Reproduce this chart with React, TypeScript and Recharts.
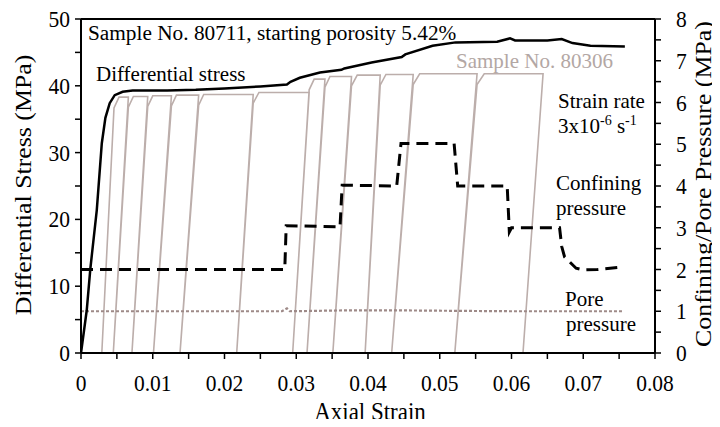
import { LineChart, Line, XAxis, YAxis, ReferenceLine } from 'recharts'

// Sample 80711 — differential stress (MPa) vs axial strain
const stressStrain = [0, 0.0008, 0.0013, 0.0022, 0.0029, 0.0034, 0.004, 0.0047, 0.0058, 0.0072, 0.012, 0.016, 0.02, 0.025, 0.0287, 0.0292, 0.0305, 0.0333, 0.0363, 0.0367, 0.0405, 0.0447, 0.0452, 0.049, 0.0522, 0.058, 0.0598, 0.0605, 0.065, 0.067, 0.0685, 0.071, 0.0758]
const stressValues = [0, 6.4, 12.6, 21.4, 31.4, 35.2, 37.4, 38.6, 39.1, 39.3, 39.3, 39.4, 39.6, 39.9, 40.2, 40.6, 41.2, 42.0, 42.4, 42.6, 43.5, 44.3, 44.7, 46.0, 46.5, 46.6, 47.1, 46.8, 46.8, 47.0, 46.4, 46.0, 45.9]

// Sample 80306 — unload / reload cycles
const cycleFoot = [0.0029, 0.0045, 0.0071, 0.0101, 0.0138, 0.0217, 0.0295, 0.0315, 0.0351, 0.0396, 0.0433, 0.0521, 0.0616]
const cycleTop = [0.0046, 0.0066, 0.0093, 0.0126, 0.0164, 0.024, 0.0318, 0.034, 0.0377, 0.0417, 0.0463, 0.0552, 0.0644]
const cycleKnee = [0.0053, 0.0073, 0.01, 0.0133, 0.0171, 0.0248, 0.0325, 0.0347, 0.0385, 0.0425, 0.0472, 0.0562]
const cyclePeak = [38.3, 38.4, 38.5, 38.6, 38.7, 39.0, 41.0, 41.4, 41.6, 41.7, 41.8, 41.8]

// confining pressure (MPa, right axis)
const confStrain = [0, 0.0284, 0.0286, 0.0361, 0.0364, 0.044, 0.0446, 0.052, 0.0525, 0.0594, 0.0597, 0.06, 0.0667, 0.067, 0.0674, 0.069, 0.07, 0.072, 0.0748]
const confValues = [2.0, 2.0, 3.05, 3.02, 4.02, 4.0, 5.02, 5.02, 4.0, 4.0, 2.9, 3.0, 3.0, 2.55, 2.3, 2.03, 1.99, 2.0, 2.05]

// pore pressure (MPa, right axis)
const poreStrain = [0, 0.028, 0.0287, 0.0291, 0.0365, 0.045, 0.052, 0.06, 0.0755]
const poreValues = [1.0, 1.0, 1.07, 1.0, 1.02, 1.02, 1.01, 1.0, 1.0]

const xTicks = [0, 0.005, 0.01, 0.015, 0.02, 0.025, 0.03, 0.035, 0.04, 0.045, 0.05, 0.055, 0.06, 0.065, 0.07, 0.075, 0.08]
const leftTicks = [0, 5, 10, 15, 20, 25, 30, 35, 40, 45, 50]
const rightTicks = [0, 0.5, 1, 1.5, 2, 2.5, 3, 3.5, 4, 4.5, 5, 5.5, 6, 6.5, 7, 7.5, 8]

const FONT = '"Liberation Serif", "Times New Roman", serif'
const GREY = '#bcaeab'
const STRETCH = 1.1 // the source figure is a bit taller than wide

const stressData = stressStrain.map((x, i) => ({ x, s: stressValues[i] }))
const confData = confStrain.map((x, i) => ({ x, p: confValues[i] }))
const poreData = poreStrain.map((x, i) => ({ x, p: poreValues[i] }))

// walk the cycles: reload up to the top, round into the plateau, unload at the next top
const cycleData: { x: number; s: number }[] = []
cycleFoot.forEach((f, i) => {
  if (i > 0) cycleData.push({ x: cycleTop[i], s: cyclePeak[i - 1] })
  cycleData.push({ x: f, s: 0 })
  if (i < cyclePeak.length) {
    cycleData.push({ x: cycleTop[i], s: cyclePeak[i] - 1.6 })
    cycleData.push({ x: cycleKnee[i], s: cyclePeak[i] })
  }
})

const axisLine = { stroke: '#000', strokeWidth: 2 }
const tickLine = { stroke: '#000', strokeWidth: 1.5 }

function XTick({ x, y, payload }: any) {
  const v = payload.value as number
  if (Math.round(v * 1000) % 10 !== 0) return null
  return (
    <text transform={`translate(${x},${y}) scale(1,${STRETCH})`} textAnchor="middle" dy="0.71em" fontSize={21.5} fill="#000" fontFamily={FONT}>
      {String(+v.toFixed(2))}
    </text>
  )
}

function LeftTick({ x, y, payload }: any) {
  const v = payload.value as number
  if (v % 10 !== 0) return null
  return (
    <text transform={`translate(${x},${y}) scale(1,${STRETCH})`} textAnchor="end" dy="0.34em" fontSize={21.5} fill="#000" fontFamily={FONT}>
      {v}
    </text>
  )
}

function RightTick({ x, y, payload }: any) {
  const v = payload.value as number
  if (v % 1 !== 0) return null
  return (
    <text transform={`translate(${x},${y}) scale(1,${STRETCH})`} textAnchor="start" dy="0.34em" fontSize={21.5} fill="#000" fontFamily={FONT}>
      {v}
    </text>
  )
}

export default function App() {
  return (
    <div style={{ position: 'relative', width: 720, height: 427, margin: -8, background: '#fff', fontFamily: FONT }}>
      <LineChart width={720} height={427} margin={{ top: 19, right: 15, bottom: 34, left: 21 }}>
        <XAxis
          dataKey="x"
          type="number"
          domain={[0, 0.08]}
          ticks={xTicks}
          interval={0}
          height={40}
          tickSize={6}
          tickMargin={15}
          tick={<XTick />}
          axisLine={axisLine}
          tickLine={tickLine}
          allowDataOverflow
        />
        <YAxis
          yAxisId="left"
          type="number"
          domain={[0, 50]}
          ticks={leftTicks}
          interval={0}
          width={60}
          tickSize={6}
          tickMargin={5}
          tick={<LeftTick />}
          axisLine={axisLine}
          tickLine={tickLine}
        />
        <YAxis
          yAxisId="right"
          orientation="right"
          type="number"
          domain={[0, 8]}
          ticks={rightTicks}
          interval={0}
          width={50}
          tickSize={6}
          tickMargin={15}
          tick={<RightTick />}
          axisLine={axisLine}
          tickLine={tickLine}
        />
        <ReferenceLine yAxisId="left" y={50} stroke="#000" strokeWidth={2} />
        <Line
          yAxisId="left"
          data={cycleData}
          dataKey="s"
          type="linear"
          stroke={GREY}
          strokeWidth={1.6}
          dot={false}
          isAnimationActive={false}
        />
        <Line
          yAxisId="right"
          data={poreData}
          dataKey="p"
          type="linear"
          stroke="#9e8a88"
          strokeWidth={2.2}
          strokeDasharray="3 2"
          dot={false}
          isAnimationActive={false}
        />
        <Line
          yAxisId="right"
          data={confData}
          dataKey="p"
          type="linear"
          stroke="#000"
          strokeWidth={3}
          strokeDasharray="12 7"
          dot={false}
          isAnimationActive={false}
        />
        <Line
          yAxisId="left"
          data={stressData}
          dataKey="s"
          type="linear"
          stroke="#000"
          strokeWidth={2.5}
          dot={false}
          isAnimationActive={false}
        />
      </LineChart>
      <svg
        width={720}
        height={427}
        style={{ position: 'absolute', left: 0, top: 0, pointerEvents: 'none', fontFamily: FONT }}
        fontSize={21}
        fill="#000"
      >
        <text x={88} y={40} fontSize={21.3}>Sample No. 80711, starting porosity 5.42%</text>
        <text x={96} y={81}>Differential stress</text>
        <text x={456} y={68} fill="#b3a7a4">Sample No. 80306</text>
        <text x={558} y={108}>Strain rate</text>
        <text x={558} y={133}>
          3x10<tspan dy={-8} fontSize={14}>-6</tspan>
          <tspan dy={8}> s</tspan>
          <tspan dy={-8} fontSize={14}>-1</tspan>
        </text>
        <text x={556} y={190}>Confining</text>
        <text x={556} y={215}>pressure</text>
        <text x={565} y={306}>Pore</text>
        <text x={566} y={331}>pressure</text>
        <text transform={`translate(370 420) scale(1 ${STRETCH})`} fontSize={23} textAnchor="middle">Axial Strain</text>
        <text transform={`translate(31 185) rotate(-90) scale(${STRETCH} 1)`} fontSize={23.5} textAnchor="middle">Differential Stress (MPa)</text>
        <text transform={`translate(711 184) rotate(-90) scale(${STRETCH} 1)`} fontSize={23.5} textAnchor="middle">Confining/Pore Pressure (MPa)</text>
      </svg>
    </div>
  )
}
